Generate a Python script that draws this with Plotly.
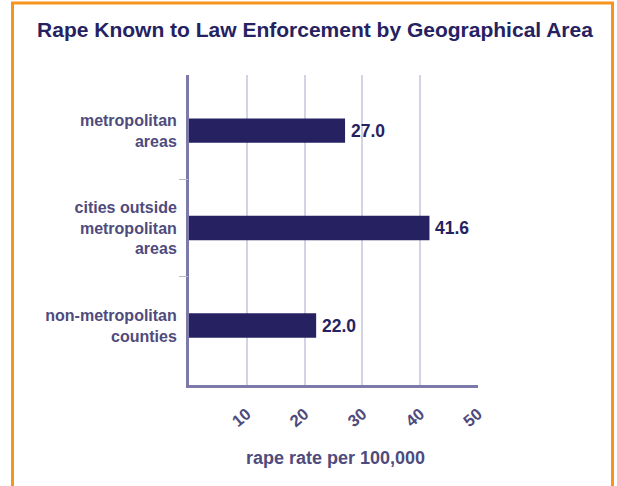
import plotly.graph_objects as go

# Rape rate per 100,000 inhabitants by type of area
areas = ["metropolitan<br>areas", "cities outside<br>metropolitan<br>areas", "non-metropolitan<br>counties"]
rates = [27.0, 41.6, 22.0]
rate_ticks = [10, 20, 30, 40, 50]
separators = [0.5, 1.5]

NAVY = "#262262"
MUTED = "#4f4b7d"
AXIS = "#7d79a8"
GRID = "#d4d3e3"
ORANGE = "#f7941d"
FONT = "Liberation Sans"

L, R, T, B = 189, 139, 75, 101
W, H = 617, 486
pw, ph = W - L - R, H - T - B
y_range = [2.61, -0.57]

fig = go.Figure()
fig.add_trace(
    go.Bar(
        x=rates,
        y=areas,
        orientation="h",
        width=0.25,
        marker=dict(color=NAVY, line=dict(width=0)),
        hoverinfo="skip",
    )
)
# empty trace so the companion axis with the group separators gets drawn
fig.add_trace(go.Scatter(x=[], y=[], yaxis="y2", showlegend=False, hoverinfo="skip"))

value_labels = [
    dict(
        x=v,
        y=a,
        xref="x",
        yref="y",
        text=f"{v:.1f}",
        xanchor="left",
        yanchor="middle",
        xshift=4,
        showarrow=False,
        font=dict(family=FONT, size=17.5, color=NAVY, weight="bold"),
    )
    for a, v in zip(areas, rates)
]

fig.update_layout(
    width=W,
    height=H,
    margin=dict(l=L, r=R, t=T, b=B, pad=0),
    paper_bgcolor="white",
    plot_bgcolor="white",
    showlegend=False,
    title=dict(
        text="Rape Known to Law Enforcement by Geographical Area",
        font=dict(family=FONT, size=21, color=NAVY, weight="bold"),
        x=315 / W,
        xanchor="center",
        xref="container",
        y=1 - 30 / H,
        yanchor="middle",
        yref="container",
    ),
    xaxis=dict(
        range=[0, 50],
        tickvals=rate_ticks,
        ticktext=[str(t) for t in rate_ticks],
        tickangle=-40,
        ticks="",
        ticklabelstandoff=10,
        tickfont=dict(family=FONT, size=16.5, color=MUTED, weight="bold"),
        showgrid=True,
        gridcolor=GRID,
        gridwidth=1.5,
        showline=True,
        linecolor=AXIS,
        linewidth=3,
        zeroline=False,
        fixedrange=True,
    ),
    yaxis=dict(
        type="category",
        range=y_range,
        ticks="",
        ticklabelstandoff=6,
        tickfont=dict(family=FONT, size=16, color=MUTED, weight="bold"),
        showgrid=False,
        showline=True,
        linecolor=AXIS,
        linewidth=3,
        zeroline=False,
        fixedrange=True,
    ),
    yaxis2=dict(
        overlaying="y",
        side="left",
        range=y_range,
        tickvals=separators,
        ticktext=["", ""],
        ticks="outside",
        ticklen=9,
        tickwidth=1,
        tickcolor="#b9b7d0",
        showgrid=False,
        showline=False,
        zeroline=False,
        fixedrange=True,
    ),
    annotations=value_labels
    + [
        dict(
            text="rape rate per 100,000",
            xref="paper",
            yref="paper",
            x=(335 - L) / pw,
            y=(H - B - 458) / ph,
            xanchor="center",
            yanchor="middle",
            showarrow=False,
            font=dict(family=FONT, size=18, color=MUTED, weight="bold"),
        )
    ],
    shapes=[
        # orange frame around the panel (open at the bottom edge)
        dict(
            type="rect",
            xref="paper",
            yref="paper",
            x0=(12.5 - L) / pw,
            x1=(612.5 - L) / pw,
            y0=(H - B - 520) / ph,
            y1=(H - B - 3) / ph,
            line=dict(color=ORANGE, width=3),
            fillcolor="rgba(0,0,0,0)",
            layer="below",
        )
    ],
)

fig.write_html("out.html")
